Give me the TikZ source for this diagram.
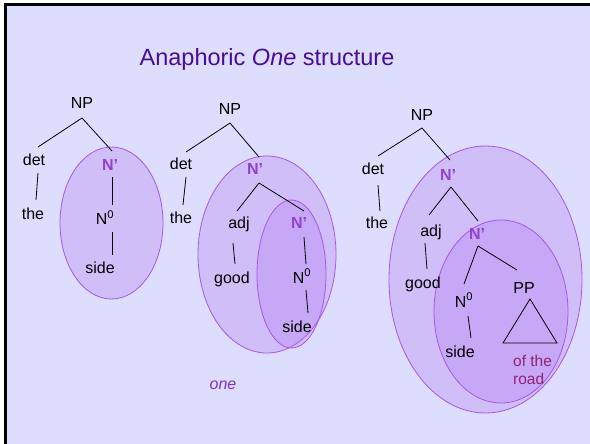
\documentclass[tikz,border=0pt]{standalone}
\usepackage{fontspec}
\setmainfont{Liberation Sans}
\usetikzlibrary{calc}
\definecolor{bgc}{RGB}{221,221,253}
\definecolor{titlec}{RGB}{72,12,150}
\definecolor{nbarc}{RGB}{145,65,205}
\definecolor{onec}{RGB}{130,45,200}
\definecolor{roadc}{RGB}{145,35,115}
\definecolor{ellline}{RGB}{170,85,235}
\definecolor{ellfill}{RGB}{180,120,240}
\tikzset{
  lab/.style={inner sep=0pt, text height=11pt, text depth=3pt, font=\fontsize{16}{18}\selectfont, text=black},
  nbar/.style={lab, font=\fontsize{16}{18}\selectfont\bfseries, text=nbarc},
  edge/.style={draw=black, line width=0.8pt},
  ell/.style={draw=ellline, line width=0.8pt, fill=ellfill, fill opacity=0.3},
}
\newcommand{\Nzero}{N\textsuperscript{0}}
\begin{document}
\begin{tikzpicture}[x=1pt,y=-1pt]
\useasboundingbox (0,0) rectangle (590,444);
\fill[white] (0,0) rectangle (590,444);
\fill[bgc] (4,3) rectangle (590,444);
\draw[black, line width=3pt] (5.5,444) -- (5.5,4.5) -- (590,4.5);

% title
\node[font=\fontsize{23.5}{28}\selectfont, text=titlec, inner sep=0pt] (title) at (267,59) {Anaphoric \textit{One} structure};

% ellipses
\path[ell] (111.5,223) ellipse [x radius=51.5, y radius=76];
\path[ell] (267,254.5) ellipse [x radius=69, y radius=98.5];
\path[ell] (291.5,274) ellipse [x radius=34.5, y radius=74];
\path[ell] (485.5,279.5) ellipse [x radius=96.5, y radius=133.5];
\path[ell] (501,311.5) ellipse [x radius=67, y radius=91.5];

% tree 1
\node[lab] (np1) at (82,105) {NP};
\node[lab] (det1) at (34,161) {det};
\node[lab] (the1) at (33,215) {the};
\node[nbar] (nb1) at (110,167) {N'};
\node[lab] (n01) at (105,221) {\Nzero};
\node[lab] (side1) at (100,269) {side};
\draw[edge] ($(np1)+(0,13)$) -- ($(det1)+(4,-14)$);
\draw[edge] ($(np1)+(0,13)$) -- ($(nb1)+(2,-16)$);
\draw[edge] ($(det1)+(4,12)$) -- ($(the1)+(3,-15)$);
\draw[edge] ($(nb1)+(2,10)$) -- ($(n01)+(7,-16)$);
\draw[edge] ($(n01)+(7,11)$) -- ($(side1)+(12,-14)$);

% tree 2
\node[lab] (np2) at (230,111) {NP};
\node[lab] (det2) at (181,166) {det};
\node[lab] (the2) at (181,219) {the};
\node[nbar] (nb2a) at (255,171) {N'};
\node[lab] (adj2) at (239,225) {adj};
\node[lab] (good2) at (232,279) {good};
\node[nbar] (nb2b) at (299,225) {N'};
\node[lab] (n02) at (302,279) {\Nzero};
\node[lab] (side2) at (297,328) {side};
\draw[edge] ($(np2)+(0,12)$) -- ($(det2)+(5,-14)$);
\draw[edge] ($(np2)+(0,12)$) -- ($(nb2a)+(4,-14)$);
\draw[edge] ($(det2)+(5,11)$) -- ($(the2)+(2,-14)$);
\draw[edge] ($(nb2a)+(4,12)$) -- ($(adj2)+(-2,-14)$);
\draw[edge] ($(nb2a)+(4,12)$) -- ($(nb2b)+(5,-14)$);
\draw[edge] ($(adj2)+(-6,18)$) -- ($(good2)+(3,-15)$);
\draw[edge] ($(nb2b)+(5,12)$) -- ($(n02)+(4,-15)$);
\draw[edge] ($(n02)+(4,11)$) -- ($(side2)+(11,-15)$);

% tree 3
\node[lab] (np3) at (422,117) {NP};
\node[lab] (det3) at (373,171) {det};
\node[lab] (the3) at (377,225) {the};
\node[nbar] (nb3a) at (448,177) {N'};
\node[lab] (adj3) at (431,232) {adj};
\node[lab] (good3) at (423,284) {good};
\node[nbar] (nb3b) at (477,235) {N'};
\node[lab] (n03) at (464,303) {\Nzero};
\node[lab] (side3) at (460,353) {side};
\node[lab] (pp3) at (524,289) {PP};
\node[inner sep=0pt, font=\fontsize{15.5}{18}\selectfont, text=roadc, align=left, anchor=north west] (road3) at (513,355) {of the\\road};
\draw[edge] ($(np3)+(0,11)$) -- ($(det3)+(5,-15)$);
\draw[edge] ($(np3)+(0,11)$) -- ($(nb3a)+(2,-17)$);
\draw[edge] ($(det3)+(5,14)$) -- ($(the3)+(3,-14)$);
\draw[edge] ($(nb3a)+(3,10)$) -- ($(adj3)+(-2,-17)$);
\draw[edge] ($(nb3a)+(3,10)$) -- ($(nb3b)+(1,-14)$);
\draw[edge] ($(adj3)+(-6,11)$) -- ($(good3)+(4,-15)$);
\draw[edge] ($(nb3b)+(1,11)$) -- ($(n03)+(0,-19)$);
\draw[edge] ($(nb3b)+(1,11)$) -- ($(pp3)+(-7,-19)$);
\draw[edge] ($(n03)+(4,13)$) -- ($(side3)+(11,-15)$);
\draw[edge] ($(pp3)+(6,10)$) -- ($(pp3)+(-21,54)$) -- ($(pp3)+(33,54)$) -- cycle;

% one
\node[inner sep=0pt, font=\fontsize{16}{18}\selectfont\itshape, text=onec] (one) at (223,385) {one};
\end{tikzpicture}
\end{document}
